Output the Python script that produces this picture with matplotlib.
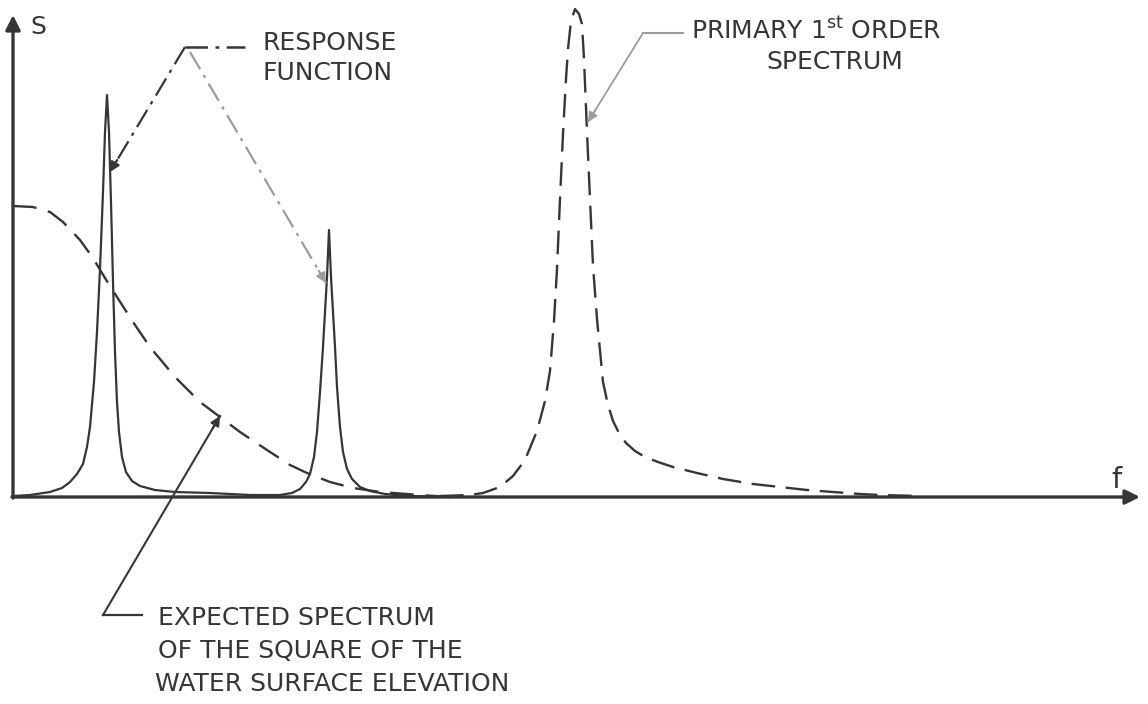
import numpy as np
import matplotlib
matplotlib.use("Agg")
import matplotlib.pyplot as plt

# response function (solid): two narrow resonance peaks
resp_f = [0.00, 0.17, 0.37, 0.49, 0.57, 0.64, 0.70, 0.74, 0.77, 0.81, 0.84, 0.87,
          0.90, 0.92, 0.94, 0.96, 0.98, 1.00, 1.02, 1.04, 1.06, 1.09, 1.13, 1.19,
          1.27, 1.42, 1.62, 1.97, 2.37, 2.67, 2.79, 2.87, 2.93, 2.97, 3.01, 3.04,
          3.07, 3.10, 3.12, 3.14, 3.16, 3.18, 3.20, 3.22, 3.24, 3.27, 3.30, 3.34,
          3.39, 3.47, 3.57, 3.72, 3.97, 4.37]
resp_s = [0.01, 0.02, 0.05, 0.09, 0.15, 0.23, 0.33, 0.50, 0.70, 1.15, 1.65, 2.28,
          3.05, 3.65, 4.02, 3.65, 2.95, 2.15, 1.45, 0.95, 0.65, 0.40, 0.25, 0.16,
          0.11, 0.07, 0.05, 0.04, 0.02, 0.02, 0.04, 0.08, 0.15, 0.23, 0.40, 0.65,
          1.05, 1.50, 1.85, 2.20, 2.67, 2.20, 1.85, 1.50, 1.10, 0.70, 0.45, 0.28,
          0.18, 0.10, 0.06, 0.03, 0.01, 0.00]

# expected spectrum of the square of the water surface elevation (dashed)
exp_f = [0.00, 0.20, 0.37, 0.50, 0.67, 0.80, 0.92, 1.04, 1.20, 1.37, 1.62, 1.87,
         2.07, 2.27, 2.54, 2.77, 2.94, 3.17, 3.40, 3.67, 4.07, 4.37]
exp_s = [2.91, 2.90, 2.85, 2.75, 2.57, 2.39, 2.19, 2.00, 1.75, 1.50, 1.20, 0.95,
         0.80, 0.65, 0.47, 0.32, 0.24, 0.15, 0.09, 0.05, 0.02, 0.00]

# primary 1st order spectrum (dashed)
prim_f = [4.27, 4.57, 4.70, 4.87, 5.00, 5.12, 5.24, 5.32, 5.37, 5.41, 5.44, 5.47,
          5.50, 5.53, 5.55, 5.58, 5.62, 5.66, 5.69, 5.71, 5.74, 5.77, 5.80, 5.84,
          5.90, 5.95, 6.00, 6.06, 6.13, 6.22, 6.32, 6.45, 6.60, 6.84, 7.10, 7.40,
          7.67, 7.94, 8.20, 8.47, 8.67, 9.07]
prim_s = [0.01, 0.02, 0.04, 0.10, 0.21, 0.37, 0.66, 0.96, 1.26, 1.76, 2.28, 2.98,
          3.63, 4.18, 4.48, 4.76, 4.88, 4.83, 4.73, 4.38, 3.65, 2.98, 2.31, 1.78,
          1.15, 0.92, 0.76, 0.64, 0.54, 0.46, 0.40, 0.35, 0.30, 0.24, 0.18, 0.13,
          0.10, 0.07, 0.05, 0.03, 0.02, 0.01]

ink = '#363636'
grey = '#9c9c9c'

fig = plt.figure(figsize=(11.48, 7.04), dpi=100)
ax = fig.add_axes([0, 0, 1, 1])
ax.set_xlim(-0.13, 11.35)
ax.set_ylim(-2.07, 4.97)
ax.axis('off')

ax.plot(resp_f, resp_s, color=ink, lw=1.6, solid_joinstyle='round')
ax.plot(exp_f, exp_s, color=ink, lw=1.7, dashes=(10, 5))
ax.plot(prim_f, prim_s, color=ink, lw=1.7, dashes=(10, 4.5))

# axes with arrow heads
arrow_kw = dict(arrowstyle='-|>', color=ink, lw=2.4, mutation_scale=22,
                shrinkA=0, shrinkB=0)
ax.annotate('', xy=(11.27, 0), xytext=(-0.01, 0), arrowprops=arrow_kw)
ax.annotate('', xy=(0, 4.82), xytext=(0, -0.01), arrowprops=arrow_kw)
ax.text(0.17, 4.70, 'S', fontsize=18, color=ink, ha='left', va='center')
ax.text(11.04, 0.17, 'f', fontsize=21, color=ink, ha='center', va='center')


def pointer(pts, color, ls, lw=1.4):
    pts = np.array(pts)
    ax.plot(pts[:, 0], pts[:, 1], color=color, lw=lw, linestyle=ls)
    tip, prev = pts[-1], pts[-2]
    d = (prev - tip) / np.hypot(*(prev - tip))
    ax.annotate('', xy=tip, xytext=tip + 0.14 * d,
                arrowprops=dict(arrowstyle='-|>', color=color, lw=lw,
                                mutation_scale=14, shrinkA=0, shrinkB=0))


dashdot = (0, (9, 3, 1.5, 3))
# response function pointers
ax.plot([1.72, 2.32], [4.50, 4.50], color=ink, lw=1.8, linestyle=dashdot)
pointer([(1.72, 4.50), (0.97, 3.25)], ink, dashdot, lw=1.6)
pointer([(1.77, 4.45), (3.13, 2.14)], grey, dashdot, lw=1.6)
# primary spectrum pointer
ax.plot([6.30, 6.70], [4.64, 4.64], color=grey, lw=1.5)
pointer([(6.30, 4.64), (5.75, 3.75)], grey, '-', lw=1.3)
# expected spectrum pointer
ax.plot([0.90, 1.29], [-1.18, -1.18], color=ink, lw=1.6)
pointer([(0.90, -1.18), (2.07, 0.81)], ink, '-', lw=1.5)

txt = dict(fontsize=18, color=ink, va='center', family='DejaVu Sans')
ax.text(2.50, 4.54, 'RESPONSE', ha='left', **txt)
ax.text(2.50, 4.24, 'FUNCTION', ha='left', **txt)
ax.text(6.78, 4.66, r'PRIMARY 1$^{\mathrm{st}}$ ORDER', ha='left', **txt)
ax.text(8.22, 4.35, 'SPECTRUM', ha='center', **txt)
ax.text(1.45, -1.21, 'EXPECTED SPECTRUM', ha='left', **txt)
ax.text(1.45, -1.54, 'OF THE SQUARE OF THE', ha='left', **txt)
ax.text(1.42, -1.87, 'WATER SURFACE ELEVATION', ha='left', **txt)

fig.savefig('out.png', dpi=100, facecolor='white')
